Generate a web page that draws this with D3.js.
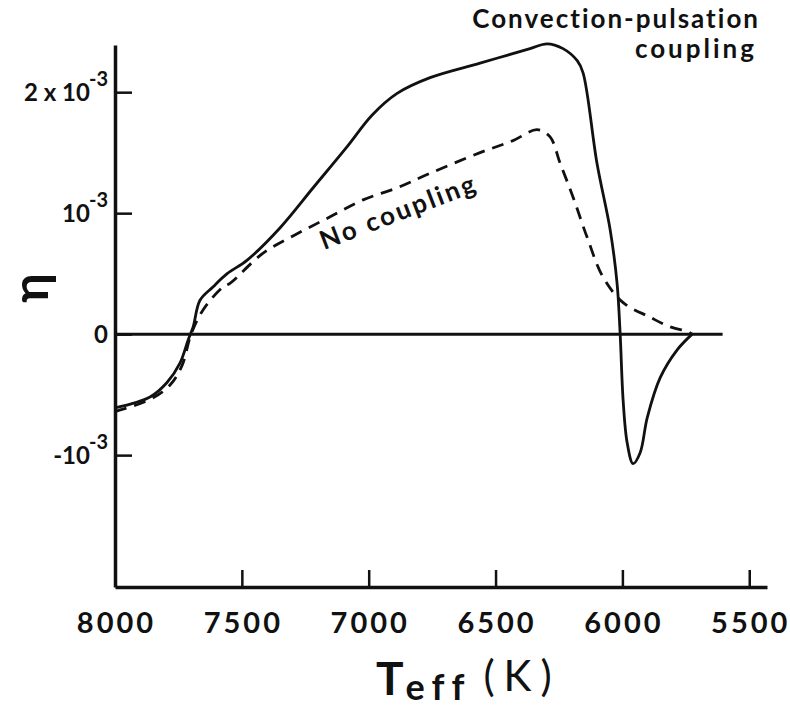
<!DOCTYPE html>
<html>
<head>
<meta charset="utf-8">
<script src="https://cdn.jsdelivr.net/npm/d3@7"></script>
<style>
  body { margin: 0; background: #fff; }
  svg { display: block; }
  text { font-family: "Lato", "DejaVu Sans", sans-serif; font-weight: 700; fill: #111; }
</style>
</head>
<body>
<svg id="plot" width="790" height="709"></svg>
<script>
// Teff (K) and eta (in units of 10^-3)
var couplingT   = [8000, 7862, 7795, 7744, 7712, 7692, 7665, 7614, 7558, 7480, 7349, 7219, 7085, 6987, 6888, 6758, 6561, 6364, 6297, 6234, 6178, 6155, 6100, 6048, 6021, 6009, 5997, 5981, 5958, 5930, 5902, 5851, 5784, 5725];
var couplingEta = [-0.61, -0.52, -0.40, -0.24, -0.05, 0.06, 0.28, 0.39, 0.50, 0.61, 0.88, 1.21, 1.55, 1.81, 1.99, 2.12, 2.24, 2.36, 2.40, 2.36, 2.26, 2.16, 1.41, 0.86, 0.42, 0.01, -0.55, -0.90, -1.07, -0.98, -0.69, -0.36, -0.13, 0.0];

var noCouplingT   = [8000, 7862, 7783, 7736, 7700, 7653, 7574, 7547, 7416, 7282, 7152, 7022, 6888, 6758, 6561, 6431, 6336, 6285, 6245, 6194, 6139, 6076, 5997, 5891, 5812, 5741, 5725];
var noCouplingEta = [-0.64, -0.54, -0.42, -0.26, 0.0, 0.20, 0.39, 0.42, 0.67, 0.83, 0.97, 1.11, 1.21, 1.33, 1.50, 1.60, 1.69, 1.63, 1.41, 1.13, 0.80, 0.47, 0.26, 0.14, 0.06, 0.02, 0.0];

var xTicks = [8000, 7500, 7000, 6500, 6000, 5500];
var yTicks = [-1, 0, 1, 2];
var yTickMantissa = {"-1": "-10", "0": "0", "1": "10", "2": "2 x 10"};
var zeroLineT = [8000, 5605];

d3.select(window).on('load', init);

function init() {
    var svg = d3.select('#plot');

    var x = d3.scaleLinear().domain([8000, 5430]).range([115, 767]);
    var y = d3.scaleLinear().domain([-2.09, 2.39]).range([587, 45]);

    // x axis, ticks pointing up
    var gx = svg.append('g')
        .attr('transform', 'translate(0,' + y(-2.09) + ')')
        .call(d3.axisBottom(x).tickValues(xTicks).tickSizeInner(-17).tickSizeOuter(0)
            .tickPadding(25).tickFormat(d3.format('d')));
    gx.select('.domain').attr('stroke', '#111').attr('stroke-width', 3.5);
    gx.selectAll('.tick line').attr('stroke', '#111').attr('stroke-width', 2.5);
    gx.selectAll('.tick text')
        .attr('font-size', 29).attr('letter-spacing', 3).attr('dx', 1).attr('dy', '0.72em')
        .attr('font-family', 'Lato, sans-serif');

    // y axis, ticks pointing right
    var gy = svg.append('g')
        .attr('transform', 'translate(' + x(8000) + ',0)')
        .call(d3.axisLeft(y).tickValues(yTicks).tickSizeInner(-17).tickSizeOuter(0)
            .tickPadding(10).tickFormat(''));
    gy.select('.domain').attr('stroke', '#111').attr('stroke-width', 3.5);
    gy.selectAll('.tick line').attr('stroke', '#111').attr('stroke-width', 2.5);
    gy.selectAll('.tick text').each(function(d) {
        var t = d3.select(this).attr('font-size', 24).attr('dy', '0.36em').attr('x', -7);
        t.append('tspan').text(yTickMantissa[d]);
        if (d !== 0) {
            t.append('tspan').attr('font-size', 20).attr('dx', -1).attr('dy', -15).text('-3');
        }
    });

    // zero line
    svg.append('line')
        .attr('x1', x(zeroLineT[0])).attr('x2', x(zeroLineT[1]))
        .attr('y1', y(0)).attr('y2', y(0))
        .attr('stroke', '#111').attr('stroke-width', 3);

    var line = d3.line()
        .x(function(d) { return x(d[0]); })
        .y(function(d) { return y(d[1]); })
        .curve(d3.curveCatmullRom.alpha(0.5));

    svg.append('path')
        .datum(d3.zip(couplingT, couplingEta))
        .attr('d', line)
        .attr('fill', 'none').attr('stroke', '#111').attr('stroke-width', 2.8);

    svg.append('path')
        .datum(d3.zip(noCouplingT, noCouplingEta))
        .attr('d', line)
        .attr('fill', 'none').attr('stroke', '#111').attr('stroke-width', 2.8)
        .attr('stroke-dasharray', '12,8');

    // annotations
    svg.append('text').attr('x', 760).attr('y', 28).attr('text-anchor', 'end')
        .attr('font-size', 26).attr('letter-spacing', 2).text('Convection-pulsation');
    svg.append('text').attr('x', 757).attr('y', 58).attr('text-anchor', 'end')
        .attr('font-size', 26).attr('letter-spacing', 3).text('coupling');
    svg.append('text').attr('transform', 'translate(324,250) rotate(-21)')
        .attr('font-size', 26).attr('letter-spacing', 2.5).text('No coupling');

    // axis titles
    svg.append('text').attr('transform', 'translate(48,288) rotate(-90)')
        .attr('text-anchor', 'middle').attr('font-size', 50).attr('font-weight', 400)
        .text('η');

    var xt = svg.append('text').attr('x', 376).attr('y', 695).attr('font-size', 46).attr('font-weight', 400);
    xt.append('tspan').text('T');
    xt.append('tspan').attr('font-size', 36).attr('font-weight', 700).attr('dy', 5).attr('dx', 2)
        .attr('letter-spacing', 7).text('eff');
    xt.append('tspan').attr('font-size', 42).attr('font-weight', 400).attr('dy', -9).attr('dx', 12)
        .attr('letter-spacing', 9).text('(K)');
}
</script>
</body>
</html>
